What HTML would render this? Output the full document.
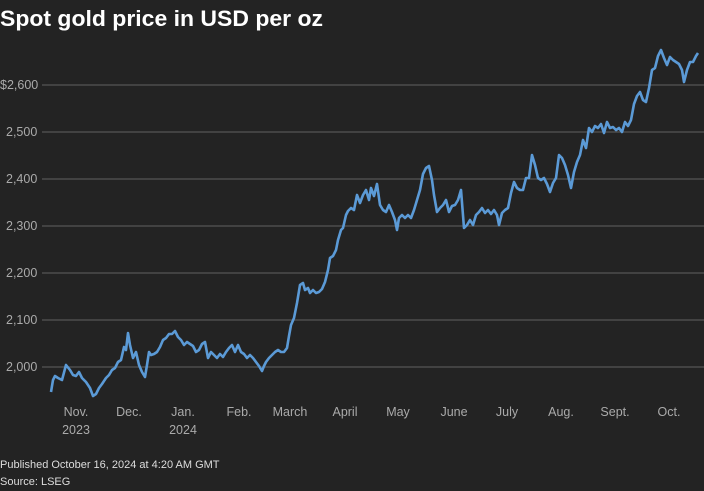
<!DOCTYPE html>
<html><head><meta charset="utf-8"><style>
html,body{margin:0;padding:0;background:#232323;width:704px;height:491px;overflow:hidden;font-family:"Liberation Sans",sans-serif}
</style></head><body>
<svg width="704" height="491" xmlns="http://www.w3.org/2000/svg" style="display:block">
<rect width="704" height="491" fill="#232323"/>
<text x="0" y="26" fill="#fff" font-size="22" font-weight="bold" textLength="323" lengthAdjust="spacingAndGlyphs" font-family="Liberation Sans, sans-serif">Spot gold price in USD per oz</text>
<g stroke="#555" stroke-width="1.2">
<line x1="42" y1="85" x2="704" y2="85"/>
<line x1="42" y1="132" x2="704" y2="132"/>
<line x1="42" y1="179" x2="704" y2="179"/>
<line x1="42" y1="226" x2="704" y2="226"/>
<line x1="42" y1="273" x2="704" y2="273"/>
<line x1="42" y1="320" x2="704" y2="320"/>
<line x1="42" y1="367" x2="704" y2="367"/>
</g>
<g fill="#aaa" font-size="12.5" font-family="Liberation Sans, sans-serif">
<text x="0" y="89">$2,600</text>
<text x="6" y="136">2,500</text>
<text x="6" y="183">2,400</text>
<text x="6" y="230">2,300</text>
<text x="6" y="277">2,200</text>
<text x="6" y="324">2,100</text>
<text x="6" y="371">2,000</text>
</g>
<g fill="#aaa" font-size="12.5" text-anchor="middle" font-family="Liberation Sans, sans-serif">
<text x="76" y="416">Nov.</text><text x="76" y="434">2023</text>
<text x="129" y="416">Dec.</text>
<text x="183" y="416">Jan.</text><text x="183" y="434">2024</text>
<text x="239" y="416">Feb.</text>
<text x="290" y="416">March</text>
<text x="345" y="416">April</text>
<text x="398" y="416">May</text>
<text x="454" y="416">June</text>
<text x="507" y="416">July</text>
<text x="561" y="416">Aug.</text>
<text x="615" y="416">Sept.</text>
<text x="669" y="416">Oct.</text>
</g>
<polyline fill="none" stroke="#5b9ad6" stroke-width="2.6" stroke-linejoin="round" points="51,392 53,380 55,376 58,378 62,380 66,365 70,370 73,375 76,376 79,372 82,378 86,382 90,388 93,396 96,394 99,388 102,384 106,378 109,375 112,370 115,368 118,362 121,360 124,347 126,350 128,333 130,345 133,358 136,352 139,365 142,372 145,377 147,365 149,352 151,355 154,354 157,352 160,347 163,340 166,338 169,334 172,334 175,331 178,337 181,340 184,345 187,342 190,344 193,346 196,352 199,350 202,344 205,342 208,358 211,352 214,355 217,358 220,354 223,357 226,352 229,348 232,345 235,352 238,345 241,352 244,354 247,358 250,355 253,358 256,362 259,366 262,371 264,366 266,362 269,358 272,355 275,352 278,350 281,352 284,352 287,348 289,336 291,325 294,318 297,303 300,285 303,283 305,290 308,288 310,293 313,290 316,293 319,292 322,289 325,282 328,270 330,258 333,256 336,250 338,240 341,230 343,228 346,215 348,211 351,208 354,210 357,195 360,203 363,195 366,190 369,200 371,188 374,196 377,184 380,205 383,210 386,212 389,205 392,212 395,220 397,230 399,218 402,215 405,218 408,215 411,218 414,210 417,200 420,190 423,174 426,168 429,166 432,180 434,195 437,212 440,208 443,205 446,200 449,212 452,206 455,205 458,200 461,190 464,228 467,225 470,220 473,225 476,215 479,212 482,208 485,213 488,210 491,214 494,210 497,215 499,225 502,213 505,210 508,208 511,193 514,182 517,188 520,190 523,190 526,178 529,178 532,155 535,165 538,178 541,180 544,178 547,184 550,192 553,183 556,178 559,155 562,158 565,165 568,175 571,188 574,172 577,162 580,155 583,140 586,148 589,128 592,132 595,126 598,128 601,124 604,133 607,122 610,128 613,127 616,130 619,128 622,132 625,122 628,126 631,120 634,104 637,96 640,92 643,100 646,102 649,88 652,70 655,68 658,56 661,50 664,58 667,65 670,57 673,60 676,62 679,64 682,70 684,82 687,70 690,62 693,62 696,56 698,53"/>
<g fill="#ddd" font-size="11" font-family="Liberation Sans, sans-serif">
<text x="0" y="468">Published October 16, 2024 at 4:20 AM GMT</text>
<text x="0" y="485">Source: LSEG</text>
</g>
</svg>
</body></html>
